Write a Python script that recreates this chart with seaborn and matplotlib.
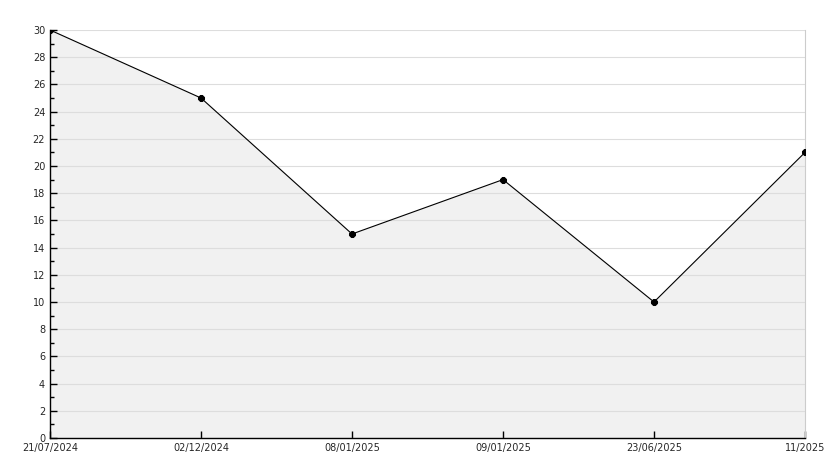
import matplotlib
matplotlib.use("Agg")
import matplotlib.pyplot as plt
import seaborn as sns
import pandas as pd
from matplotlib.ticker import MultipleLocator

dates = ["21/07/2024", "02/12/2024", "08/01/2025", "09/01/2025", "23/06/2025", "11/2025"]
values = [30, 25, 15, 19, 10, 21]

sns.set_style("white")
plt.rcParams['font.family'] = ['DejaVu Sans']
df = pd.DataFrame({"x": range(len(dates)), "y": values})

fig = plt.figure(figsize=(8.34, 4.68), dpi=100)
ax = fig.add_axes([50/834, 30/468, 755/834, 408/468])
ax.fill_between(df["x"], df["y"], 0, color="#f1f1f1", zorder=1)
sns.lineplot(data=df, x="x", y="y", ax=ax, color="black", linewidth=0.8,
             marker="8", markersize=4.5, markeredgecolor="black", zorder=3)
ax.set_xlim(0, len(dates) - 1)
ax.set_ylim(0, 30)
ax.set_xticks(range(len(dates)))
ax.set_xticklabels(dates)
ax.yaxis.set_major_locator(MultipleLocator(2))
ax.yaxis.set_minor_locator(MultipleLocator(1))
ax.grid(axis="y", color="#dddddd", linewidth=0.8, zorder=0)
ax.set_axisbelow("line")
ax.tick_params(axis="both", which="both", direction="in", labelsize=7, color="black",
               left=True, bottom=True, width=1)
ax.tick_params(axis="y", which="major", length=5)
ax.tick_params(axis="y", which="minor", length=3)
ax.tick_params(axis="x", length=5)
ax.spines["top"].set_visible(False)
ax.spines["right"].set_visible(True)
ax.spines["right"].set_color("#cccccc")
for s in ["left", "bottom"]:
    ax.spines[s].set_color("black")
    ax.spines[s].set_linewidth(1)
ax.set_xlabel("")
ax.set_ylabel("")
fig.savefig("out.png", dpi=100, facecolor="white")
